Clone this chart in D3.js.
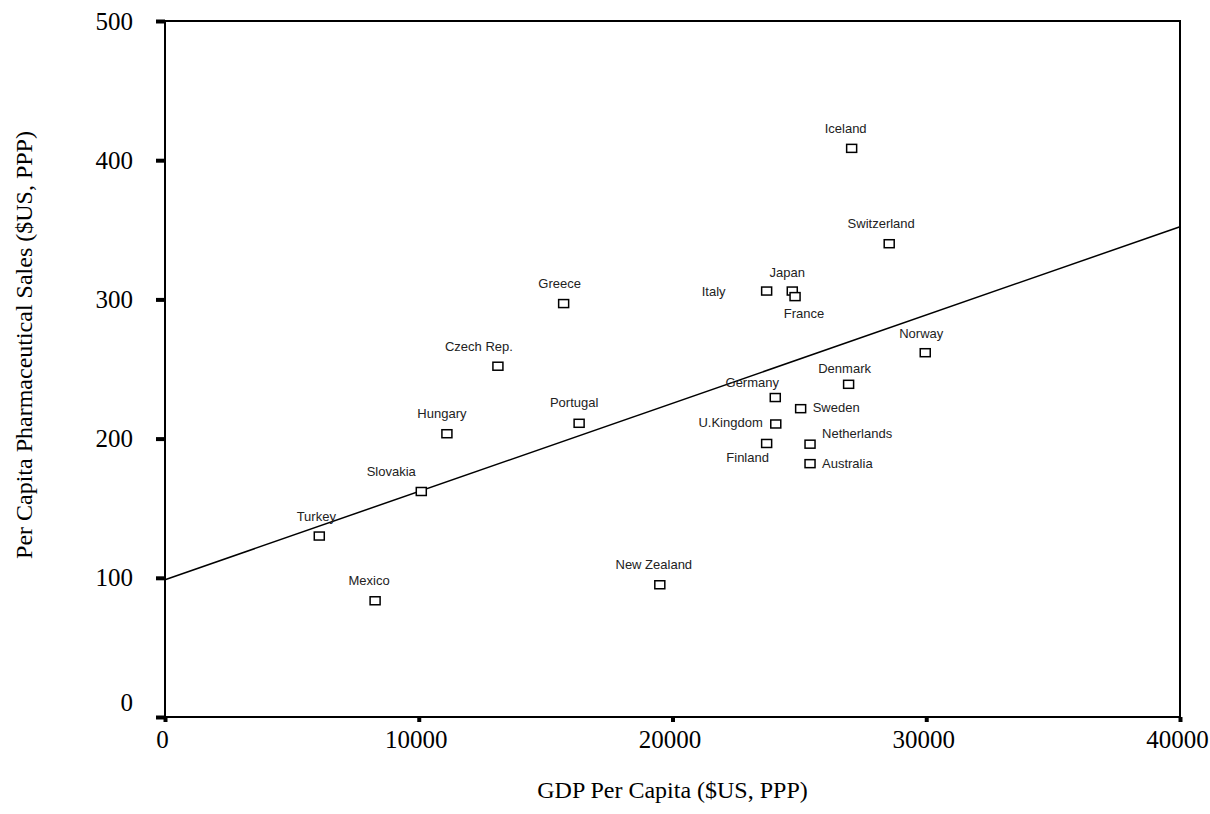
<!DOCTYPE html>
<html>
<head>
<meta charset="utf-8">
<script src="https://cdn.jsdelivr.net/npm/d3@7/dist/d3.min.js"></script>
<style>
  body { margin: 0; background: #fff; }
  svg { display: block; }
  .tick text { font-family: "Liberation Serif", "Times New Roman", serif; font-size: 25px; fill: #000; }
  .lbl { font-family: "Liberation Sans", Arial, sans-serif; font-size: 13px; fill: #222; }
  .title { font-family: "Liberation Serif", "Times New Roman", serif; font-size: 24px; fill: #000; }
</style>
</head>
<body>
<div id="chart"></div>
<script>
// countries, GDP per capita ($US, PPP) and per capita pharmaceutical sales
var countries = ["Turkey", "Mexico", "Slovakia", "Hungary", "Czech Rep.", "Greece", "Portugal",
  "New Zealand", "Italy", "Japan", "France", "Germany", "U.Kingdom", "Finland", "Sweden",
  "Netherlands", "Australia", "Denmark", "Iceland", "Switzerland", "Norway"];
var gdp = [6080, 8280, 10100, 11110, 13120, 15710, 16320,
  19500, 23710, 24720, 24830, 24050, 24070, 23710, 25050,
  25420, 25420, 26940, 27060, 28540, 29960];
var sales = [130, 83.5, 162, 203.5, 252, 297, 211,
  95, 306, 306, 302, 229.5, 210.5, 196.5, 221.5,
  196, 182, 239, 408.5, 340, 261.7];

// fitted line, end points
var fitX = [0, 40000];
var fitY = [98.6, 352.2];

var xTicks = [0, 10000, 20000, 30000, 40000];
var yTicks = [0, 100, 200, 300, 400, 500];

// where each name sits next to its square (dx, dy, anchor)
var labelPos = {
  "Turkey": [-3, -20, "middle"], "Mexico": [-6, -20, "middle"], "Slovakia": [-30, -20, "middle"],
  "Hungary": [-5, -20, "middle"], "Czech Rep.": [-19, -20, "middle"], "Greece": [-4, -20, "middle"],
  "Portugal": [-5, -21, "middle"], "New Zealand": [-6, -20, "middle"], "Italy": [-53, 0, "middle"],
  "Japan": [-5, -19, "middle"], "France": [9, 17, "middle"], "Germany": [-23, -15, "middle"],
  "U.Kingdom": [-13, -2, "end"], "Finland": [-19, 14, "middle"], "Sweden": [12, -1, "start"],
  "Netherlands": [12, -11, "start"], "Australia": [12, 0, "start"], "Denmark": [-4, -16, "middle"],
  "Iceland": [-6, -20, "middle"], "Switzerland": [-8, -20, "middle"], "Norway": [-4, -19, "middle"]
};

var W = 1210, H = 814;
var plotL = 165, plotR = 1180, plotT = 21, plotB = 717;

var svg = d3.select("#chart").append("svg")
    .attr("width", W)
    .attr("height", H);

var x = d3.scaleLinear().domain([0, 40000]).range([plotL, plotR]);
var y = d3.scaleLinear().domain([0, 500]).range([plotB, plotT]);

// frame
svg.append("rect")
    .attr("x", plotL).attr("y", plotT)
    .attr("width", plotR - plotL).attr("height", plotB - plotT)
    .attr("fill", "none").attr("stroke", "#000").attr("stroke-width", 2);

var yAxis = svg.append("g")
    .attr("transform", "translate(" + plotL + ",0)")
    .call(d3.axisLeft(y).tickValues(yTicks).tickSize(9).tickPadding(23).tickFormat(d3.format("d")));
yAxis.select(".domain").remove();
yAxis.selectAll(".tick line").attr("stroke-width", 4);
yAxis.selectAll(".tick text").attr("dy", function(d) { return d === 0 ? "-0.25em" : "0.32em"; });

var xAxis = svg.append("g")
    .attr("transform", "translate(0," + plotB + ")")
    .call(d3.axisBottom(x).tickValues(xTicks).tickSize(5).tickPadding(8).tickFormat(d3.format("d")));
xAxis.select(".domain").remove();
xAxis.selectAll(".tick line").attr("stroke-width", 4);
xAxis.selectAll(".tick text").attr("dx", -3);

// fit line
var line = d3.line()
    .x(function(d) { return x(d[0]); })
    .y(function(d) { return y(d[1]); });
svg.append("path")
    .datum(d3.zip(fitX, fitY))
    .attr("d", line)
    .attr("fill", "none")
    .attr("stroke", "#000")
    .attr("stroke-width", 1.5);

var pts = countries.map(function(c, i) { return {name: c, gdp: gdp[i], sales: sales[i]}; });

svg.selectAll("rect.pt")
    .data(pts)
  .enter().append("rect")
    .attr("class", "pt")
    .attr("x", function(d) { return x(d.gdp) - 5; })
    .attr("y", function(d) { return y(d.sales) - 4; })
    .attr("width", 10)
    .attr("height", 8)
    .attr("fill", "#fff")
    .attr("stroke", "#000")
    .attr("stroke-width", 1.5);

svg.selectAll("text.lbl")
    .data(pts)
  .enter().append("text")
    .attr("class", "lbl")
    .attr("x", function(d) { return x(d.gdp) + labelPos[d.name][0]; })
    .attr("y", function(d) { return y(d.sales) + labelPos[d.name][1]; })
    .attr("dy", "0.35em")
    .attr("text-anchor", function(d) { return labelPos[d.name][2]; })
    .text(function(d) { return d.name; });

svg.append("text")
    .attr("class", "title")
    .attr("x", (plotL + plotR) / 2)
    .attr("y", 790)
    .attr("dy", "0.35em")
    .attr("text-anchor", "middle")
    .text("GDP Per Capita ($US, PPP)");

svg.append("text")
    .attr("class", "title")
    .attr("transform", "translate(24,345) rotate(-90)")
    .attr("dy", "0.35em")
    .attr("text-anchor", "middle")
    .text("Per Capita Pharmaceutical Sales ($US, PPP)");
</script>
</body>
</html>
